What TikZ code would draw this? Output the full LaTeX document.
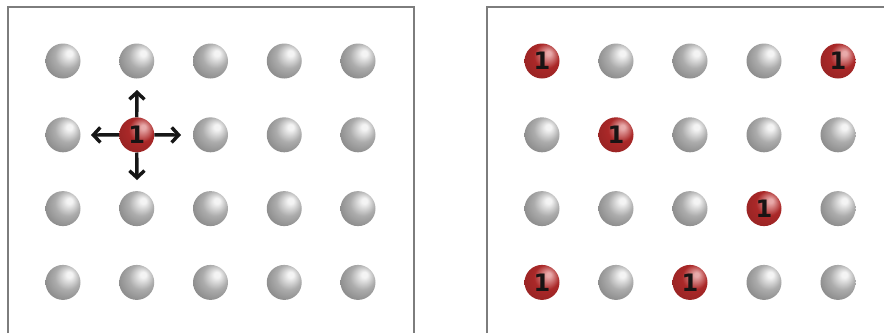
\documentclass[tikz,border=0pt]{standalone}
\usepackage{fontspec}
\newfontfamily\numfont{DejaVu Sans}
\usetikzlibrary{arrows.meta,positioning}
\definecolor{framegray}{RGB}{125,125,125}
\definecolor{arrowblack}{RGB}{22,22,22}
\definecolor{numblack}{RGB}{24,20,20}
\definecolor{hilite}{RGB}{244,244,244}
\definecolor{redhi}{RGB}{232,170,170}
\definecolor{redmid}{RGB}{170,40,40}
\definecolor{redrim}{RGB}{100,16,16}
\pgfdeclareradialshading{grayball}{\pgfpoint{10bp}{12bp}}{%
  color(0bp)=(hilite); color(4bp)=(hilite); color(18bp)=(gray!65!white);
  color(36bp)=(gray!100); color(50bp)=(gray!75!black)}
\pgfdeclareradialshading{redball}{\pgfpoint{10bp}{12bp}}{%
  color(0bp)=(redhi); color(3bp)=(redhi); color(18bp)=(redmid);
  color(38bp)=(redmid!85!black); color(50bp)=(redrim)}

\begin{document}
\begin{tikzpicture}[x=1pt,y=1pt,
    ball/.style={circle,minimum size=35pt,inner sep=0pt,shading=grayball},
    hot/.style={ball,shading=redball,text=numblack,
      font=\numfont\bfseries\fontsize{24}{24}\selectfont},
    frame/.style={draw=framegray,line width=1.5pt},
    push/.style={-{Straight Barb[length=7pt,width=15pt]},line width=3.4pt,draw=arrowblack}]

  \useasboundingbox (0,-333) rectangle (884,0);

  %,  Frames,
  \draw[frame] (8,-333) -- (8,-7) -- (414,-7) -- (414,-333);
  \draw[frame] (487,-333) -- (487,-7) -- (884,-7);

  %,  Left lattice (one excited atom),  1 = excited, 0 = ground
  \foreach \r/\row in {1/{0,0,0,0,0},2/{0,1,0,0,0},3/{0,0,0,0,0},4/{0,0,0,0,0}}
    \foreach \h [count=\c] in \row {
      \ifnum\h=1
        \node[hot] (L-\r-\c) at ({63+73.75*(\c-1)},{-61-73.8*(\r-1)}) {1};
      \else
        \node[ball] (L-\r-\c) at ({63+73.75*(\c-1)},{-61-73.8*(\r-1)}) {};
      \fi
    }

  %,  Hopping arrows,
  \coordinate (up)    at (137,-90);
  \coordinate (down)  at (137,-180);
  \coordinate (left)  at (91,-135);
  \coordinate (right) at (181,-135);
  \draw[push] (L-2-2.north) -- (up);
  \draw[push] (L-2-2.south) -- (down);
  \draw[push] (L-2-2.west)  -- (left);
  \draw[push] (L-2-2.east)  -- (right);

  %,  Right lattice (scattered excitations),
  \foreach \r/\row in {1/{1,0,0,0,1},2/{0,1,0,0,0},3/{0,0,0,1,0},4/{1,0,1,0,0}}
    \foreach \h [count=\c] in \row {
      \ifnum\h=1
        \node[hot] (R-\r-\c) at ({542+74*(\c-1)},{-61-73.8*(\r-1)}) {1};
      \else
        \node[ball] (R-\r-\c) at ({542+74*(\c-1)},{-61-73.8*(\r-1)}) {};
      \fi
    }

\end{tikzpicture}
\end{document}
